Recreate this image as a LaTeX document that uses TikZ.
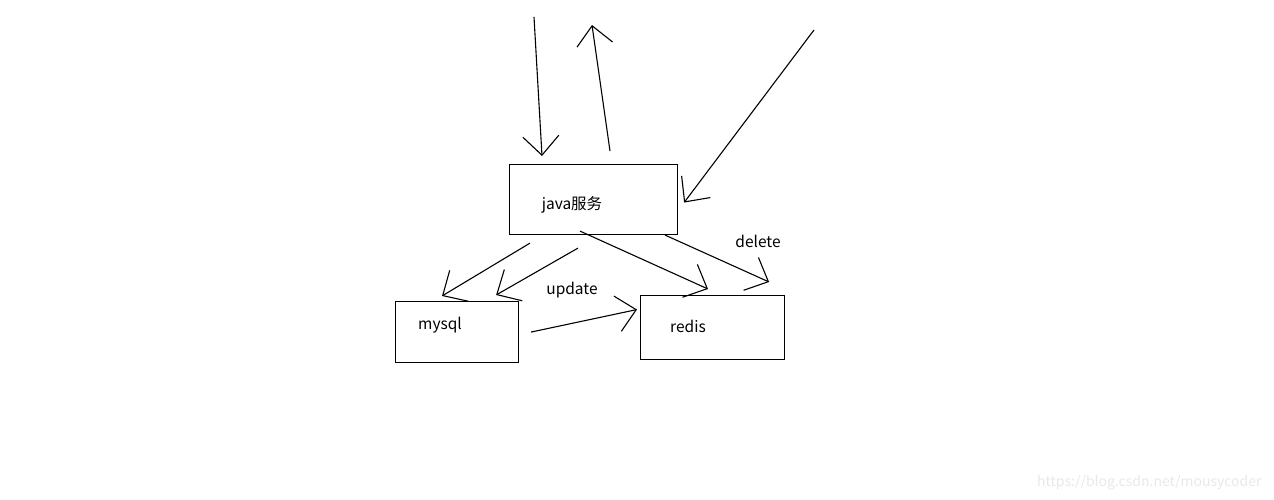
\documentclass[tikz,border=0pt]{standalone}
\usepackage{fontspec}
\setmainfont{Noto Sans CJK SC}
\usetikzlibrary{arrows.meta,calc}

\begin{document}
\begin{tikzpicture}[
    x=1pt, y=-1pt,
    box/.style={draw, line width=1.1pt, inner sep=0pt, anchor=north west},
    flow/.style={-{Straight Barb[length=19pt,width=36pt,line width=1.1pt]}, line width=1.1pt},
    note/.style={font=\fontsize{15.5}{18}\selectfont},
    watermark/.style={font=\fontsize{14}{16}\selectfont, text=black!9, anchor=east},
]
    \useasboundingbox (0,0) rectangle (1274,500);

    \node[box, minimum width=168pt, minimum height=70pt] (java) at (509,164) {};
    \node[box, minimum width=123pt, minimum height=61pt] (mysql) at (395,301) {};
    \node[box, minimum width=144pt, minimum height=64pt] (redis) at (640,295) {};

    \node[note] (javatxt) at (572,205) {java服务};
    \node[note] (mysqltxt) at (440,325) {mysql};
    \node[note] (redistxt) at (688,326) {redis};
    \node[note] (update) at (572,290) {update};
    \node[note] (delete) at (758,241) {delete};
    \node[watermark] (url) at (1265,483) {https://blog.csdn.net/mousycoder};

    \coordinate (req) at (534,17);
    \coordinate (resp) at (592,25);
    \coordinate (notify) at (814,30);

    % requests in and out of the service
    \draw[flow] (req) -- ($(java.north west)+(33,-8)$);
    \draw[flow] ($(java.north west)+(101,-13)$) -- (resp);
    \draw[flow] (notify) -- ($(java.east)+(6,3)$);

    % service to mysql
    \draw[flow] ($(java.south west)+(21,8)$) -- ($(mysql.north west)+(47,-5)$);
    \draw[flow] ($(java.south west)+(69,13)$) -- ($(mysql.north east)+(-23,-6)$);

    % service to redis
    \draw[flow] ($(java.south west)+(71,-4)$) -- ($(redis.north west)+(68,-6)$);
    \draw[flow] ($(java.south east)+(-13,0)$) -- ($(redis.north east)+(-16,-13)$);

    % mysql to redis
    \draw[flow] ($(mysql.east)+(12,0)$) -- ($(redis.west)+(-3,-18)$);
\end{tikzpicture}
\end{document}
